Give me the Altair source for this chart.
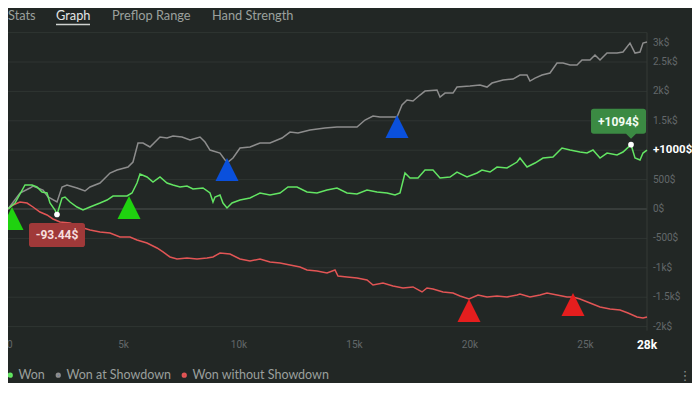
import altair as alt
import pandas as pd

# ---------------- data (hands played vs. cumulative winnings in $) ----------------
won_hands = [0, 303, 736, 1039, 1255, 1472, 1688, 1818, 2035, 2121, 2338, 2468, 2684, 2987, 3247,
             3550, 3983, 4286, 4545, 5152, 5368, 5584, 5714, 6017, 6277, 6580, 6883, 7143, 7446,
             7749, 8009, 8442, 8745, 8874, 8961, 9177, 9307, 9481, 9697, 10043, 10476, 10909,
             11342, 11775, 12121, 12511, 12944, 13377, 13810, 14242, 14675, 15108, 15541, 15974,
             16407, 16753, 16970, 17186, 17403, 17749, 18052, 18398, 18701, 19134, 19437, 19870,
             20303, 20519, 20866, 21169, 21602, 22035, 22164, 22468, 22814, 23160, 23593, 23982,
             24329, 24761, 25064, 25324, 25628, 25931, 26364, 26623, 26970, 27143, 27359, 27489,
             27662]
won_values = [0, 102, 408, 408, 374, 289, 272, 102, -17, -93.44, 187, 204, 119, 34, -17,
              34, 102, 153, 221, 221, 272, 442, 595, 544, 459, 544, 442, 408, 374,
              391, 340, 357, 272, 119, 204, 238, 102, 17, 102, 153, 187, 272,
              238, 272, 374, 374, 289, 272, 323, 357, 272, 255, 323, 289,
              272, 238, 272, 612, 527, 527, 663, 663, 527, 544, 629, 544,
              612, 663, 629, 714, 697, 799, 867, 714, 782, 867, 884, 1037,
              1003, 969, 952, 1003, 867, 952, 918, 969, 1094, 867, 833, 952,
              1000]

sd_hands = [0, 519, 952, 1082, 1515, 1732, 2121, 2338, 2554, 2987, 3333, 3550, 3983, 4416, 4719,
            5195, 5411, 5628, 5844, 6147, 6580, 6883, 7143, 7532, 7879, 8312, 8528, 8745, 9177,
            9394, 9524, 9740, 10043, 10476, 10909, 11342, 11861, 12208, 12554, 13074, 13723,
            14242, 14805, 15108, 15455, 15801, 16104, 16537, 16840, 17056, 17273, 17532, 17835,
            18052, 18571, 18701, 18918, 19264, 19437, 19999, 20433, 20736, 20952, 21429, 21861,
            22164, 22468, 22597, 22814, 23117, 23463, 23766, 24026, 24329, 24632, 24848, 25195,
            25411, 25628, 25931, 26364, 26623, 26926, 27143, 27359, 27489, 27662]
sd_values = [0, 272, 357, 391, 323, 204, 119, 374, 408, 357, 306, 374, 442, 612, 663,
             714, 799, 1122, 1122, 1054, 1224, 1207, 1241, 1224, 1173, 1224, 1139, 1003, 952,
             833, 799, 867, 1037, 1054, 1122, 1122, 1207, 1309, 1292, 1343, 1377,
             1394, 1394, 1394, 1513, 1581, 1564, 1564, 1564, 1768, 1853, 1836, 1938,
             2006, 2023, 1904, 1972, 1972, 2074, 2091, 2108, 2074, 2142, 2193, 2210,
             2278, 2278, 2176, 2227, 2278, 2312, 2482, 2482, 2448, 2448, 2533, 2533,
             2618, 2533, 2652, 2652, 2669, 2822, 2652, 2669, 2822, 2839]

nsd_hands = [0, 216, 519, 823, 1082, 1385, 1688, 1948, 2251, 2684, 3117, 3550, 3983, 4416, 4848,
             5281, 5584, 6017, 6450, 6710, 7013, 7316, 7749, 8182, 8615, 8874, 9177, 9610, 10043,
             10476, 10909, 11342, 11775, 12208, 12641, 12944, 13377, 13810, 14156, 14286, 14675,
             15108, 15541, 15801, 16234, 16667, 17100, 17532, 17922, 18138, 18398, 18831, 19264,
             19567, 19957, 20346, 20736, 21169, 21602, 22035, 22164, 22597, 23030, 23333, 23766,
             24199, 24459, 24761, 25195, 25628, 26061, 26494, 26840, 27230, 27489, 27662]
nsd_values = [0, 68, 119, 102, 34, -51, -102, -170, -221, -238, -306, -357, -391, -408, -476,
              -476, -527, -578, -663, -731, -816, -850, -833, -850, -833, -816, -748, -765, -850,
              -884, -850, -901, -918, -952, -986, -1037, -1054, -1088, -1037, -1139, -1156,
              -1173, -1207, -1292, -1258, -1309, -1343, -1326, -1411, -1343, -1360, -1411, -1428,
              -1479, -1530, -1462, -1496, -1479, -1496, -1462, -1445, -1496, -1462, -1428, -1462,
              -1496, -1496, -1530, -1598, -1666, -1700, -1717, -1768, -1836, -1853, -1836]

series_names = ["Won", "Won at Showdown", "Won without Showdown"]
line_colors = ["#63e563", "#8d8d8d", "#e25555"]

marker_series = ["Won", "Won", "Won at Showdown", "Won at Showdown",
                 "Won without Showdown", "Won without Showdown"]
marker_hands = [173, 5238, 9481, 16840, 19957, 24459]
marker_values = [34, 221, 867, 1598, -1530, -1428]
marker_colors = ["#1fd20f", "#0a50dc", "#e51e1e"]

y_ticks = [-2000, -1500, -1000, -500, 0, 500, 1000, 1500, 2000, 2500, 3000]
y_labels = ["-2k$", "-1.5k$", "-1k$", "-500$", "0$", "500$", "1k$", "1.5k$", "2k$", "2.5k$", "3k$"]
x_ticks = [0, 5000, 10000, 15000, 20000, 25000]
x_labels = ["0", "5k", "10k", "15k", "20k", "25k"]
last_hand = 27662
last_hand_label = "28k"
current_value = 1000
current_label = "+1000$"

low_hand, low_value, low_label = 2121, -93.44, "-93.44$"
high_hand, high_value, high_label = 26970, 1094, "+1094$"

tabs = ["Stats", "Graph", "Preflop Range", "Hand Strength"]

# ---------------- chart ----------------
W, H = 639, 294
BG = "#222725"
GRAYTXT = "#63676a"
xs = alt.Scale(domain=[0, last_hand], nice=False, zero=False)
ys = alt.Scale(domain=[y_ticks[0], y_ticks[-1]], nice=False, zero=False)

df_lines = pd.concat([
    pd.DataFrame({"hand": nsd_hands, "value": nsd_values, "series": series_names[2]}),
    pd.DataFrame({"hand": sd_hands, "value": sd_values, "series": series_names[1]}),
    pd.DataFrame({"hand": won_hands, "value": won_values, "series": series_names[0]}),
], ignore_index=True)
df_markers = pd.DataFrame({"hand": marker_hands, "value": marker_values, "series": marker_series})
df_y = pd.DataFrame({"value": y_ticks, "label": y_labels})
df_x = pd.DataFrame({"hand": x_ticks, "label": x_labels})
df_last = pd.DataFrame({"hand": [last_hand], "label": [last_hand_label]})
df_cur = pd.DataFrame({"value": [current_value], "label": [current_label]})
df_low = pd.DataFrame({"hand": [low_hand], "value": [low_value], "label": [low_label]})
df_high = pd.DataFrame({"hand": [high_hand], "value": [high_value], "label": [high_label]})
one = pd.DataFrame({"k": [0]})

X = lambda f="hand": alt.X(f"{f}:Q", scale=xs, axis=None)
Y = lambda f="value": alt.Y(f"{f}:Q", scale=ys, axis=None)

grid = alt.Chart(df_y).mark_rule(strokeWidth=1).encode(
    y=Y(), x=alt.value(0), x2=alt.value(W),
    color=alt.condition("datum.value == 0", alt.value("#4d5350"), alt.value("#2f3532")),
)
right_edge = alt.Chart(one).mark_rule(color="#343a37").encode(
    x=alt.value(W), y=alt.value(0), y2=alt.value(H + 4))

lines = alt.Chart(df_lines).mark_line(strokeWidth=1.5).encode(
    x=X(), y=Y(),
    color=alt.Color("series:N", scale=alt.Scale(domain=series_names, range=line_colors),
                    legend=alt.Legend(title=None, orient="none", legendX=-4, legendY=336,
                                      direction="horizontal", symbolType="circle",
                                      symbolSize=5, symbolStrokeWidth=3,
                                      labelColor="#9a9f9c", labelFontSize=12.5, labelFont="Lato",
                                      labelOffset=2, columnPadding=6, padding=0)),
)

markers = alt.Chart(df_markers).mark_point(
    shape="M0,-1L1,1L-1,1Z", filled=True, size=529, yOffset=11.5, opacity=1, strokeWidth=0
).encode(
    x=X(), y=Y(),
    fill=alt.Fill("series:N", scale=alt.Scale(domain=series_names, range=marker_colors), legend=None),
)

low_box = alt.Chart(df_low).mark_point(
    shape="M-0.9,-0.43L0.9,-0.43Q1,-0.43 1,-0.33L1,0.33Q1,0.43 0.9,0.43L-0.9,0.43Q-1,0.43 -1,0.33L-1,-0.33Q-1,-0.43 -0.9,-0.43Z",
    filled=True, size=3136, color="#a03939", opacity=1, strokeWidth=0, yOffset=20.5,
).encode(x=X(), y=Y())
low_text = alt.Chart(df_low).mark_text(
    font="Roboto", fontSize=12, fontWeight="bold", color="#f6dede", yOffset=21
).encode(x=X(), y=Y(), text="label:N")

high_box = alt.Chart(df_high).mark_point(
    shape="M-0.9,-0.4545L0.9,-0.4545Q1,-0.4545 1,-0.3545L1,0.3545Q1,0.4545 0.9,0.4545L0.636,0.4545L0.4545,0.636L0.273,0.4545L-0.9,0.4545Q-1,0.4545 -1,0.3545L-1,-0.3545Q-1,-0.4545 -0.9,-0.4545Z",
    filled=True, size=3025, color="#3b8a43", opacity=1, strokeWidth=0, xOffset=-12.5, yOffset=-23.5,
).encode(x=X(), y=Y())
high_text = alt.Chart(df_high).mark_text(
    font="Roboto", fontSize=12, fontWeight="bold", color="#f2fbf2", xOffset=-12.5, yOffset=-23
).encode(x=X(), y=Y(), text="label:N")

dots = alt.Chart(pd.concat([df_low, df_high])).mark_circle(size=32, color="white", opacity=1).encode(
    x=X(), y=Y())

ylab = alt.Chart(df_y).transform_filter("datum.value != 1000 && datum.value != 3000").mark_text(
    align="left", baseline="middle", font="Roboto", fontSize=10, color=GRAYTXT
).encode(y=Y(), x=alt.value(W + 6), text="label:N")
ylab_top = alt.Chart(df_y).transform_filter("datum.value == 3000").mark_text(
    align="left", baseline="middle", font="Roboto", fontSize=10, color=GRAYTXT, yOffset=10
).encode(y=Y(), x=alt.value(W + 6), text="label:N")
ylab_cur = alt.Chart(df_cur).mark_text(
    align="left", baseline="middle", font="Roboto", fontSize=11.5, fontWeight="bold", color="#ffffff"
).encode(y=Y(), x=alt.value(W + 6), text="label:N")

xlab = alt.Chart(df_x).transform_filter("datum.hand > 0").mark_text(
    align="center", baseline="middle", font="Roboto", fontSize=10, color=GRAYTXT
).encode(x=X(), y=alt.value(H + 18.5), text="label:N")
xlab_first = alt.Chart(df_x).transform_filter("datum.hand == 0").mark_text(
    align="left", baseline="middle", font="Roboto", fontSize=10, color=GRAYTXT, dx=-1
).encode(x=X(), y=alt.value(H + 18.5), text="label:N")
xlab_last = alt.Chart(df_last).mark_text(
    align="center", baseline="middle", font="Roboto", fontSize=12, fontWeight="bold", color="#ffffff"
).encode(x=X(), y=alt.value(H + 18.5), text="label:N")

tab_layers = []
for name, px in zip(tabs, [0, 48, 104, 204]):
    active = name == "Graph"
    tab_layers.append(alt.Chart(one).mark_text(
        align="left", baseline="alphabetic", font="Lato", fontSize=12.8,
        color="#e4e6e5" if active else "#9ba09d", text=name
    ).encode(x=alt.value(px), y=alt.value(-12.6)))
underline = alt.Chart(one).mark_rule(color="#cfd2d0", strokeWidth=1.5).encode(
    x=alt.value(48), x2=alt.value(82), y=alt.value(-8))
menu = alt.Chart(one).mark_text(
    align="center", baseline="middle", font="DejaVu Sans", fontSize=13, color="#8a8f8c", text="⋮"
).encode(x=alt.value(677), y=alt.value(H + 49.5))

chart = alt.layer(
    grid, right_edge, lines, markers, low_box, low_text, high_box, high_text, dots,
    ylab, ylab_top, ylab_cur, xlab, xlab_first, xlab_last, *tab_layers, underline, menu
).properties(
    width=W, height=H,
    padding={"left": 0, "top": 24.6, "right": 45, "bottom": 56.4},
    autosize=alt.AutoSizeParams(type="none"),
    background=BG,
).configure_view(stroke=None)

chart.save("out.html", embed_options={"renderer": "svg", "actions": False})
